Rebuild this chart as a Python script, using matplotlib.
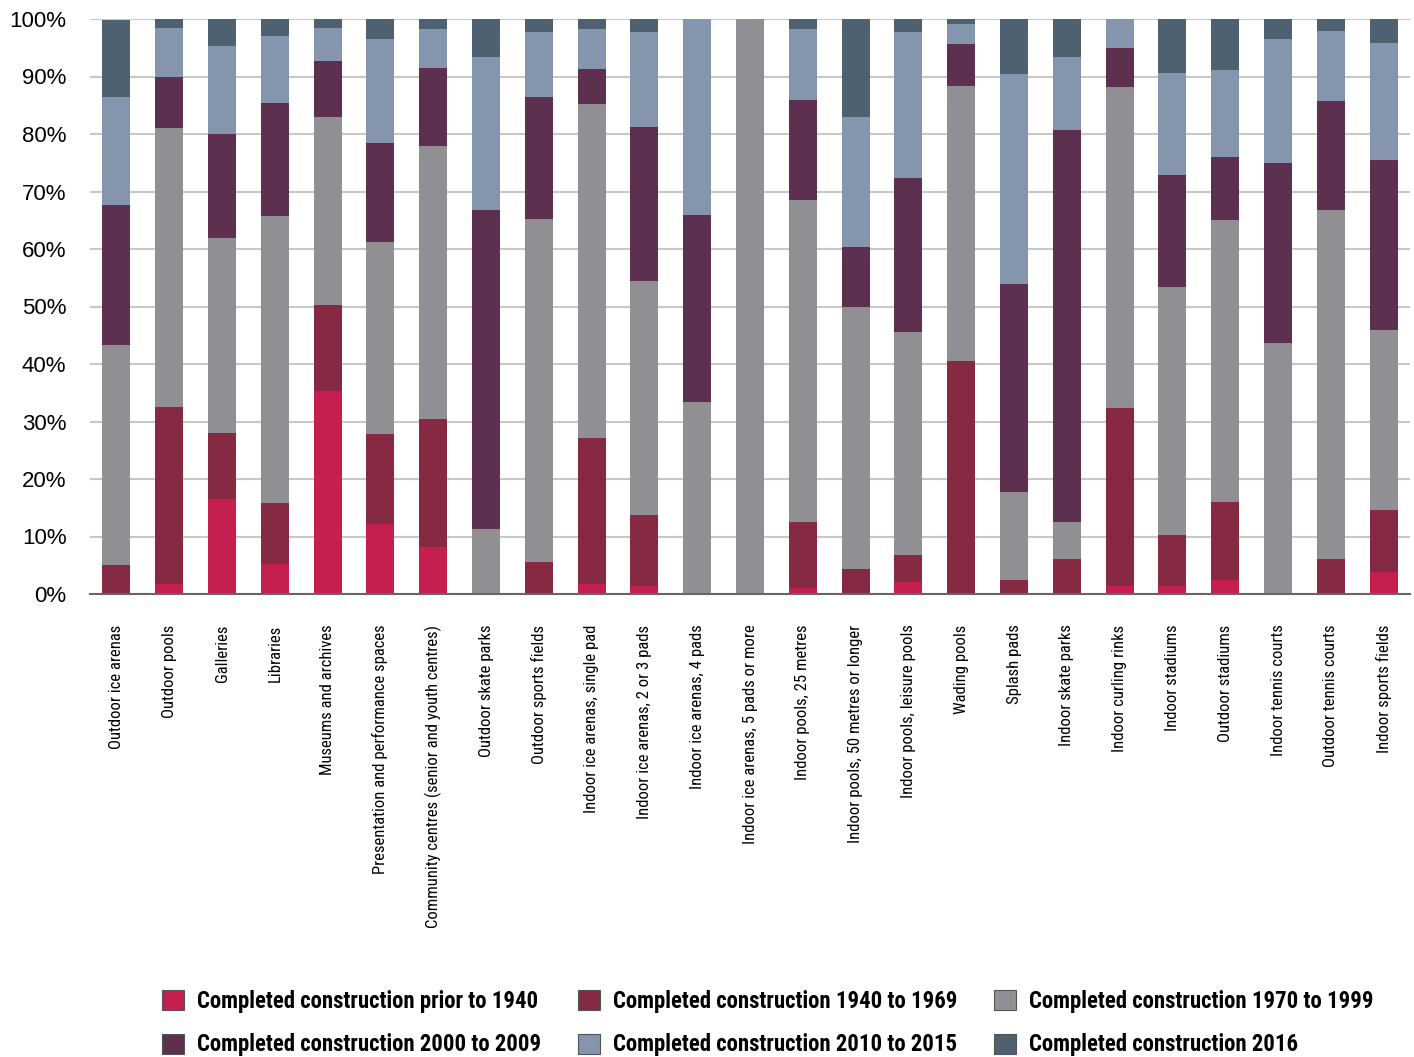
import matplotlib
matplotlib.use("Agg")
import matplotlib.pyplot as plt
from matplotlib import font_manager
import numpy as np
from matplotlib.patches import Patch

categories = [
    "Outdoor ice arenas", "Outdoor pools", "Galleries", "Libraries",
    "Museums and archives", "Presentation and performance spaces",
    "Community centres (senior and youth centres)", "Outdoor skate parks",
    "Outdoor sports fields", "Indoor ice arenas, single pad",
    "Indoor ice arenas, 2 or 3 pads", "Indoor ice arenas, 4 pads",
    "Indoor ice arenas, 5 pads or more", "Indoor pools, 25 metres",
    "Indoor pools, 50 metres or longer", "Indoor pools, leisure pools",
    "Wading pools", "Splash pads", "Indoor skate parks", "Indoor curling rinks",
    "Indoor stadiums", "Outdoor stadiums", "Indoor tennis courts",
    "Outdoor tennis courts", "Indoor sports fields",
]

series_names = [
    "Completed construction prior to 1940",
    "Completed construction 1940 to 1969",
    "Completed construction 1970 to 1999",
    "Completed construction 2000 to 2009",
    "Completed construction 2010 to 2015",
    "Completed construction 2016",
]

prior_1940 = [0, 1.7, 16.5, 5.2, 35.3, 12.1, 8.1, 0, 0, 1.7, 1.4, 0, 0, 1.0, 0, 2.1,
              0, 0, 0, 1.4, 1.4, 2.4, 0, 0, 3.8]
y1940_1969 = [5.0, 30.8, 11.5, 10.6, 14.9, 15.7, 22.3, 0, 5.5, 25.4, 12.3, 0, 0, 11.5, 4.3, 4.6,
              40.5, 2.4, 6.1, 30.9, 8.8, 13.6, 0, 6.1, 10.8]
y1970_1999 = [38.3, 48.5, 33.9, 49.9, 32.7, 33.5, 47.5, 11.3, 59.7, 58.1, 40.8, 33.4, 100, 56.0, 45.6, 38.8,
              47.8, 15.3, 6.4, 55.8, 43.2, 49.0, 43.6, 60.6, 31.4]
y2000_2009 = [24.3, 8.9, 18.1, 19.7, 9.8, 17.1, 13.5, 55.4, 21.2, 6.1, 26.7, 32.6, 0, 17.5, 10.4, 26.8,
              7.3, 36.2, 68.2, 6.8, 19.4, 11.0, 31.3, 19.0, 29.4]
y2010_2015 = [18.8, 8.5, 15.3, 11.6, 5.7, 18.1, 6.8, 26.7, 11.3, 7.0, 16.5, 34.0, 0, 12.2, 22.6, 25.4,
              3.5, 36.5, 12.7, 5.1, 17.8, 15.1, 21.6, 12.2, 20.4]
y2016 = [13.5, 1.6, 4.7, 3.0, 1.6, 3.5, 2.1, 6.6, 2.3, 1.8, 2.3, 0, 0, 1.8, 17.1, 2.3,
         0.9, 9.6, 6.6, 0, 9.4, 8.9, 3.5, 2.1, 4.2]

colors = ["#C41F4F", "#862A44", "#909094", "#5D3050", "#8595AD", "#4F6070"]

# pick a narrow face if one is around
names = {f.name for f in font_manager.fontManager.ttflist}
narrow = None
for cand in ["Liberation Sans Narrow", "Roboto Condensed", "Open Sans Condensed", "Noto Sans Condensed"]:
    if cand in names:
        narrow = cand
        break
if narrow is None:
    narrow = "DejaVu Sans"
    stretch = "condensed"
else:
    stretch = "normal"

fig = plt.figure(figsize=(14.14, 10.57), dpi=100)
ax = fig.add_axes([90 / 1414, 1 - 594 / 1057, 1320 / 1414, 575 / 1057])

x = np.arange(len(categories))
data = [prior_1940, y1940_1969, y1970_1999, y2000_2009, y2010_2015, y2016]
bottom = np.zeros(len(categories))
for vals, c in zip(data, colors):
    vals = np.array(vals, dtype=float)
    ax.bar(x, vals, width=0.53, bottom=bottom, color=c, zorder=2)
    bottom += vals

ax.set_xlim(-0.5, len(categories) - 0.5)
ax.set_ylim(0, 100)
ax.set_yticks(np.arange(0, 101, 10))
ax.set_yticklabels([f"{v}%" for v in range(0, 101, 10)],
                   family=['Liberation Sans', 'DejaVu Sans'], fontsize=16)
ax.set_xticks(x)
ax.set_xticklabels(categories, rotation=90, fontsize=12, family=narrow, fontstretch=stretch)
ax.tick_params(axis='both', length=0)
ax.tick_params(axis='x', pad=22)
ax.tick_params(axis='y', pad=17)
ax.yaxis.grid(True, color="#C8C8C8", linewidth=1.5, zorder=0)
ax.set_axisbelow(True)
for s in ["top", "right", "left"]:
    ax.spines[s].set_visible(False)
ax.spines["bottom"].set_color("#666666")
ax.spines["bottom"].set_linewidth(1.5)
ax.spines["bottom"].set_zorder(3)

order = [0, 3, 1, 4, 2, 5]
handles = [Patch(facecolor=colors[i], edgecolor="#555555", linewidth=0.8) for i in order]
labels = [series_names[i] for i in order]
fig.legend(handles, labels, ncol=3, loc="upper left", bbox_to_anchor=(162 / 1414, 1 - 990 / 1057),
           frameon=False, prop={'family': narrow, 'stretch': stretch,
                                'weight': 'bold', 'size': 16.4},
           handlelength=0.96, handleheight=0.96, columnspacing=1.62, labelspacing=0.9,
           handletextpad=0.57, borderaxespad=0, borderpad=0)

fig.savefig("out.png", dpi=100)
